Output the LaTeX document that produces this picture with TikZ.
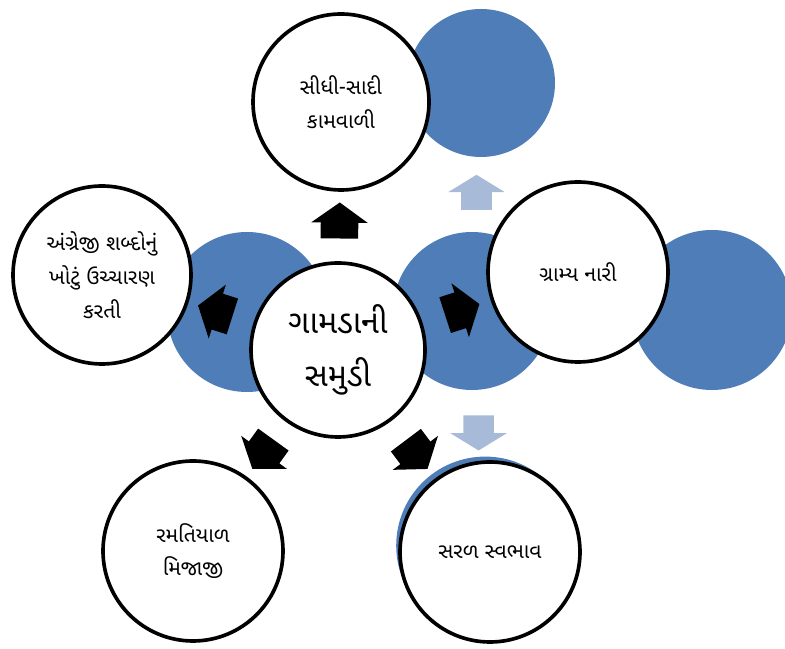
\documentclass[tikz,border=0pt]{standalone}
\usepackage{fontspec}
\usepackage{tikz}
\usetikzlibrary{positioning,shapes.arrows,backgrounds,calc}
\newfontfamily\gujfont[Script=Gujarati]{Noto Sans Gujarati UI}
\definecolor{blobblue}{RGB}{79,125,183}
\definecolor{paleblue}{RGB}{167,187,217}

\begin{document}
\begin{tikzpicture}[on grid,
    bubble/.style={circle,draw=black,line width=2.6pt,fill=white,minimum size=4.45cm,inner sep=0pt,align=center,font=\gujfont\fontsize{15}{24}\selectfont},
    hub/.style={bubble,minimum size=4.35cm,font=\gujfont\fontsize{23}{38}\selectfont},
    blob/.style={circle,fill=blobblue,draw=none,inner sep=0pt},
    blkarrow/.style={single arrow,fill=black,inner xsep=0pt,inner ysep=0.4625cm,minimum height=0.9cm,single arrow head extend=0.2375cm,single arrow tip angle=109,sloped,allow upside down,pos=.49},
    lgtarrow/.style={single arrow,fill=paleblue,inner xsep=0pt,inner ysep=0.375cm,minimum height=0.875cm,single arrow head extend=0.325cm,single arrow tip angle=117}]
  \useasboundingbox (0,0) rectangle (19.625,16.225);
  % white circles
  \node[hub] (C) at (8.45,7.475) {ગામડાની\\સમુડી};
  \node[bubble, minimum size=4.4cm] (T) [above=6.2cm of C, xshift=0.075cm] {સીધી-સાદી\\કામવાળી};
  \node[bubble] (L) [above left=1.875cm and 5.9cm of C] {અંગ્રેજી શબ્દોનું\\ખોટું ઉચ્ચારણ\\કરતી};
  \node[bubble, minimum size=4.5cm] (R) [above right=1.95cm and 6cm of C] {ગ્રામ્ય નારી};
  \node[bubble, minimum size=4.5cm] (BL) [below left=5.025cm and 3.625cm of C] {રમતિયાળ\\મિજાજી};
  \node[bubble, minimum size=4.5cm] (BR) [below right=5.05cm and 3.8cm of C] {સરળ સ્વભાવ};
  % blue circles behind
  \begin{scope}[on background layer]
    \node[blob, minimum size=3.7cm] (B1) [above right=0.475cm and 3.5cm of T] {};
    \node[blob, minimum size=4cm] (B2) [above left=0.95cm and 2.275cm of C] {};
    \node[blob, minimum size=3.95cm] (B3) [above right=0.975cm and 3.35cm of C] {};
    \node[blob, minimum size=4cm] (B4) [below right=0.95cm and 3.35cm of R] {};
    \node[blob, minimum size=4.45cm] (B5) [above left=0.16cm and 0.12cm of BR] {};
  \end{scope}
  % arrows
  \path (C) -- node[blkarrow] (a1) {} (T);
  \path (C) -- node[blkarrow] (a2) {} (L);
  \path (C) -- node[blkarrow] (a3) {} (R);
  \path (C) -- node[blkarrow] (a4) {} (BL);
  \path (C) -- node[blkarrow] (a5) {} (BR);
  \node[lgtarrow, rotate=90] (l1) at ($(B3)!.5!(B1)$) {};
  \node[lgtarrow, rotate=-90] (l2) at ($(B3)!.5!(B5)$) {};
\end{tikzpicture}
\end{document}
